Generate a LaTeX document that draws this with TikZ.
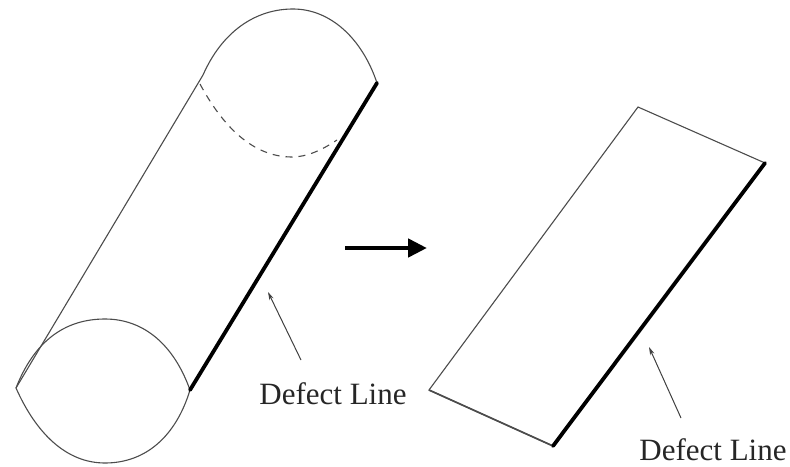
\documentclass[tikz,border=0pt]{standalone}
\usepackage{fontspec}
\setmainfont{Liberation Serif}
\usetikzlibrary{arrows.meta}
\tikzset{
  thinline/.style={draw=black!70,line width=1.1pt},
  defect/.style={draw=black,line width=3.8pt,line cap=round},
  pointer/.style={draw=black!75,line width=1pt,-{Stealth[length=8pt,width=4.5pt]}},
  bigarrow/.style={draw=black,line width=4.6pt,-{Triangle[length=19pt,width=18pt]}},
  lbl/.style={font=\fontsize{31}{33}\selectfont,text=black!85,inner sep=0pt}
}
\begin{document}
\begin{tikzpicture}[x=1pt,y=-1pt]
\useasboundingbox (0,0) rectangle (790,466);
% cylinder
\coordinate (bl) at (16,388);
\coordinate (br) at (190,390);
\coordinate (tl) at (203,75);
\coordinate (tr) at (377,83);
\coordinate (dl) at (200,84);
\draw[thinline] (bl) -- (tl);
\draw[thinline] (bl) .. controls (34,342) and (64,319) .. (105,319) .. controls (144,319) and (174,345) .. (br);
\draw[thinline] (bl) .. controls (36,433) and (66,463) .. (105,463) .. controls (146,463) and (176,436) .. (br);
\draw[thinline] (tl) .. controls (222,32) and (255,9) .. (293,9) .. controls (330,9) and (362,38) .. (tr);
\draw[thinline,dashed,dash pattern=on 7pt off 6pt] (dl) .. controls (222,125) and (252,157) .. (292,157) .. controls (307,157) and (322,150) .. (337,140);
\draw[defect] (tr) -- (br);
% arrow
\coordinate (as) at (345,248);
\coordinate (ae) at (427,248);
\draw[bigarrow] (as) -- (ae);
% sheet
\coordinate (a) at (638,107);
\coordinate (b) at (765,163);
\coordinate (c) at (553,446);
\coordinate (d) at (429,390);
\draw[thinline,line join=miter] (c) -- (d) -- (a) -- (b);
\draw[thinline,line width=1.7pt] (c) -- (d);
\draw[defect] (b) -- (c);
% labels
\node[lbl] (l1) at (333,394) {Defect Line};
\node[lbl] (l2) at (713,450) {Defect Line};
\coordinate (p1s) at (301,360);
\coordinate (p1e) at (268,292);
\coordinate (p2s) at (681,418);
\coordinate (p2e) at (649,347);
\draw[pointer] (p1s) -- (p1e);
\draw[pointer] (p2s) -- (p2e);
\end{tikzpicture}
\end{document}
